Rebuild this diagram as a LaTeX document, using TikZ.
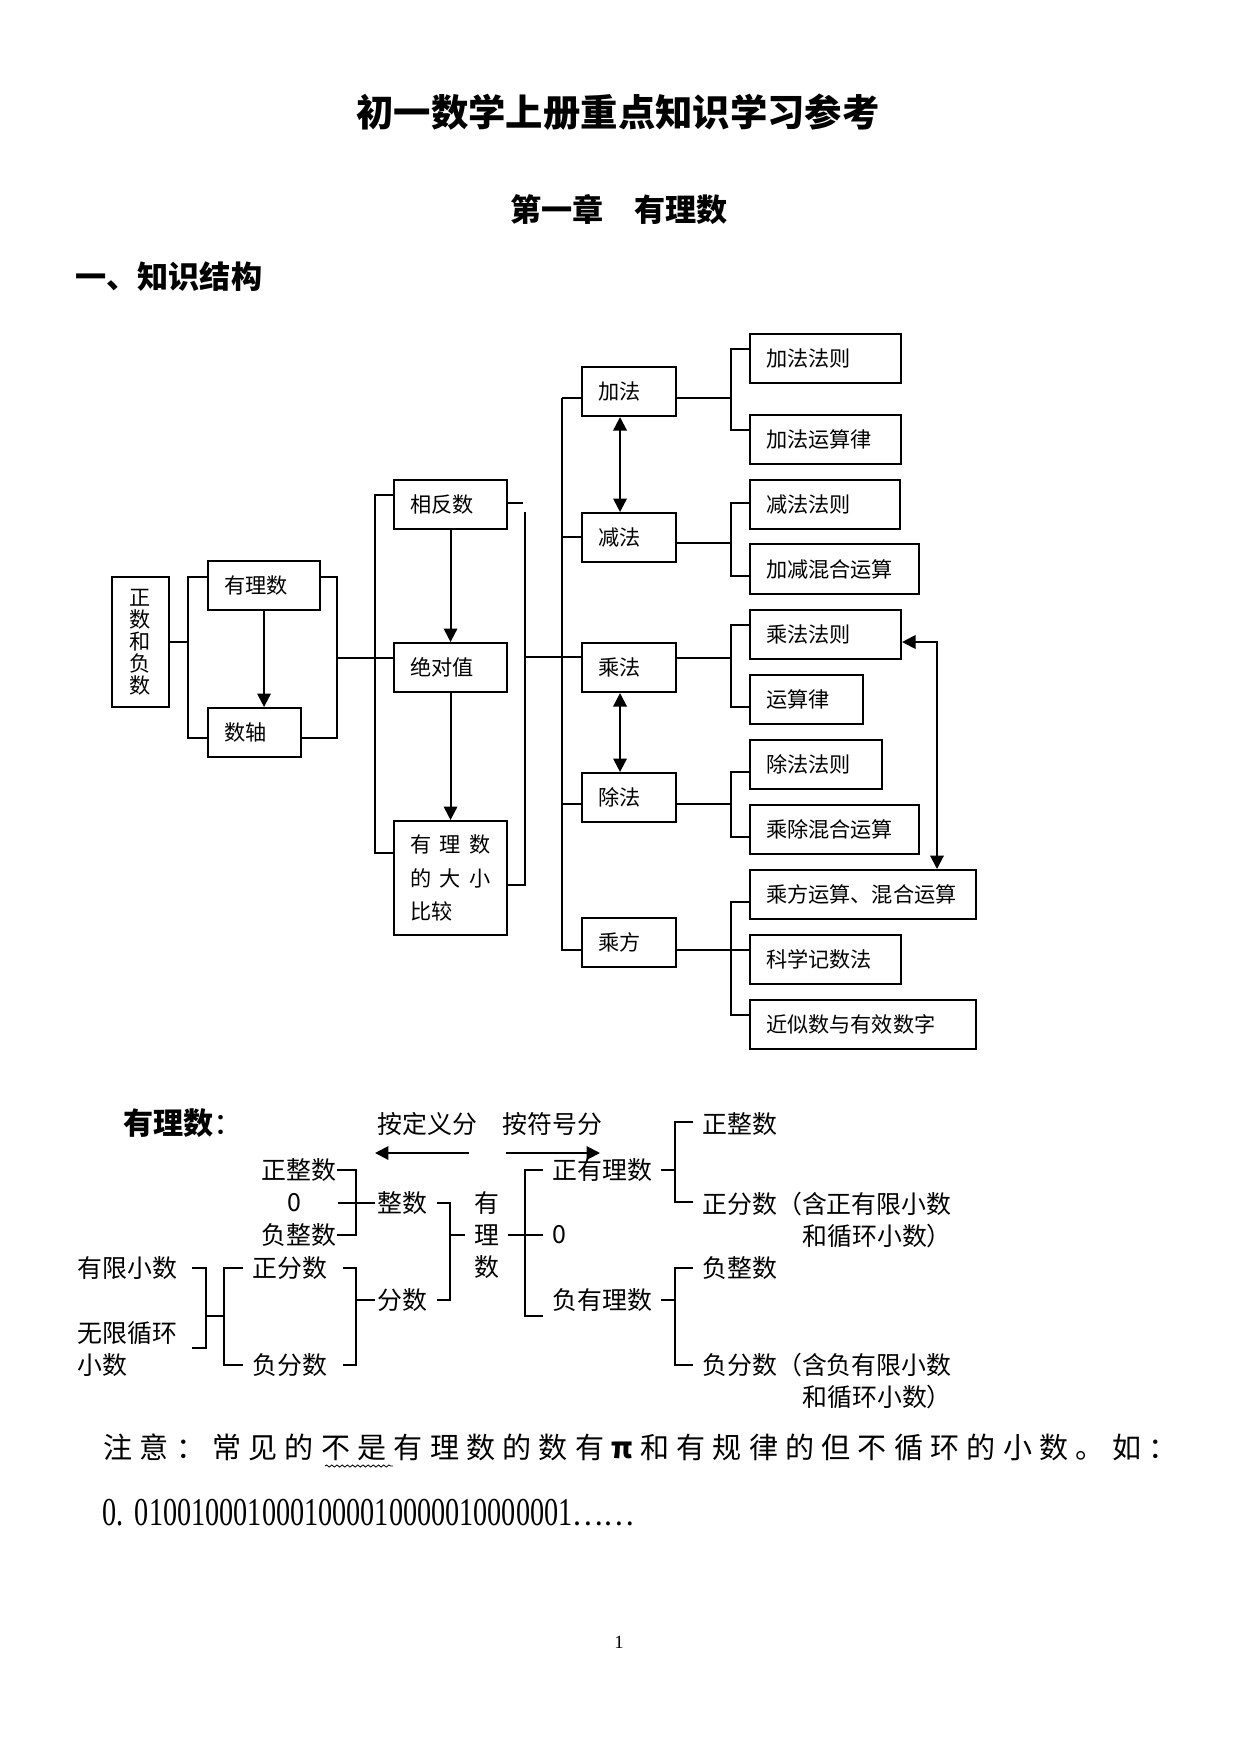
\documentclass[tikz,border=0pt]{standalone}
\usepackage{fontspec}
\usepackage{graphicx}
\setmainfont{Noto Sans CJK SC}
\newfontfamily\digitfont{Liberation Serif}
\usetikzlibrary{
	arrows.meta,
	calc,
	decorations.pathmorphing
}

\newlength\pxu
\setlength\pxu{0.16933mm}
\newcommand\fsbox{\fontsize{10.2pt}{12pt}\selectfont}
\newcommand\fstxt{\fontsize{12pt}{15.6pt}\selectfont}

\begin{document}
\begin{tikzpicture}[x=\pxu, y=-\pxu,
				box/.style={
					draw, line width=1pt, anchor=north west,
					minimum height=49\pxu, inner xsep=16\pxu, inner ysep=0pt,
					text width=#1\pxu, align=left, font=\fsbox
				},
				line/.style={line width=1pt},
				thinline/.style={line width=0.5pt},
				tip/.style={-{Triangle[length=6.5pt,width=6.5pt]}},
				bothtip/.style={{Triangle[length=6.5pt,width=6.5pt]}-{Triangle[length=6.5pt,width=6.5pt]}},
				txt/.style={inner sep=0pt, font=\fstxt},
				head/.style={inner sep=0pt, font=\bfseries\fontsize{#1}{#1}\selectfont},
				]
				\useasboundingbox (0,0) rectangle (1241,1754);
				
				%titles
				\node[head=18pt] (title) at (618,112) {初一数学上册重点知识学习参考};
				\node[head=15pt] (chap) at (619,210) {第一章　有理数};
				\node[head=15pt, anchor=west] (sec) at (75,277) {一、知识结构};
				
				%first set
				\node[draw, line width=1pt, minimum width=57\pxu, minimum height=130\pxu, inner sep=0pt,
					align=center, font=\fontsize{10.2pt}{10.6pt}\selectfont] (zf) at (140.5,642) {正\\数\\和\\负\\数};
				\node[box=80] (yls) at (207,560) {有理数};
				\node[box=61] (sz) at (207,707) {数轴};
				
				\coordinate (a1) at (188,577);
				\coordinate (a2) at (188,738);
				\draw[line] (zf.east) -- (zf.east -| a1);
				\draw[line] (yls.west |- a1) -- (a1) -- (a2) -- (sz.west |- a2);
				\draw[line, tip] (yls.south) -- (yls.south |- sz.north);
				
				\coordinate (a3) at (337,577);
				\coordinate (a4) at (337,738);
				\coordinate (a5) at (337,658);
				\draw[line] (yls.east |- a3) -- (a3) -- (a4) -- (sz.east |- a4);
				
				%2. set
				\node[box=81] (xfs) at (393,479) {相反数};
				\node[box=81] (jdz) at (393,642) {绝对值};
				\node[box=81, minimum height=114\pxu, font=\fontsize{10.2pt}{16pt}\selectfont] (dxbj) at (393,820)
					{有\hfill 理\hfill 数\\的\hfill 大\hfill 小\\比较};
				\draw[line] (a5) -- (jdz.west |- a5);
				
				\coordinate (b1) at (375,495);
				\coordinate (b2) at (375,853);
				\draw[line] (xfs.west |- b1) -- (b1) -- (b2) -- (dxbj.west |- b2);
				\draw[line, tip] (xfs) -- (jdz);
				\draw[line, tip] (jdz) -- (dxbj);
				
				\coordinate (b3) at (523,503);
				\coordinate (b4) at (525,512);
				\coordinate (b5) at (525,885);
				\coordinate (b6) at (525,657);
				\draw[line] (xfs.east |- b3) -- (b3);
				\draw[line] (b4) -- (b5) -- (dxbj.east |- b5);
				
				%3. set
				\node[box=62] (jia) at (581,366) {加法};
				\node[box=62] (jian) at (581,512) {减法};
				\node[box=62] (cheng) at (581,642) {乘法};
				\node[box=62] (chu) at (581,772) {除法};
				\node[box=62] (cf) at (581,917) {乘方};
				\draw[line] (b6) -- (cheng.west |- b6);
				
				\coordinate (c1) at (562,398);
				\coordinate (c2) at (562,537);
				\coordinate (c4) at (562,804);
				\coordinate (c5) at (562,950);
				\draw[thinline] (c1) -- (c5) -- (cf.west |- c5);
				\draw[line] (jia.west |- c1) -- (c1);
				\draw[thinline] (c2) -- (jian.west |- c2);
				\draw[thinline] (c4) -- (chu.west |- c4);
				\draw[line, bothtip] ([xshift=-9\pxu]jia.south) -- ([xshift=-9\pxu]jian.north);
				\draw[line, bothtip] ([xshift=-9\pxu]cheng.south) -- ([xshift=-9\pxu]chu.north);
				
				%4. set
				\node[box=119] (jfz) at (749,333) {加法法则};
				\node[box=119] (jfyl) at (749,414) {加法运算律};
				\node[box=118] (jffz) at (749,479) {减法法则};
				\node[box=137, minimum height=50\pxu] (jjhh) at (749,543) {加减混合运算};
				\node[box=119] (cfz) at (749,609) {乘法法则};
				\node[box=81] (ysl) at (749,674) {运算律};
				\node[box=100] (chfz) at (749,739) {除法法则};
				\node[box=137] (cchh) at (749,804) {乘除混合运算};
				\node[box=194] (cfys) at (749,869) {乘方运算、混合运算};
				\node[box=119] (kx) at (749,934) {科学记数法};
				\node[box=194] (js) at (749,999) {近似数与有效数字};
				
				\coordinate (d1) at (731,349);
				\coordinate (d2) at (731,430);
				\draw[line] (jia.east |- c1) -- (d1 |- c1);
				\draw[line] (jfz.west |- d1) -- (d1) -- (d2) -- (jfyl.west |- d2);
				
				\coordinate (e2) at (731,543);
				\coordinate (d3) at (731,503);
				\coordinate (d4) at (731,576);
				\draw[thinline] (jian.east |- e2) -- (e2);
				\draw[line] (jffz.west |- d3) -- (d3) -- (d4) -- (jjhh.west |- d4);
				
				\coordinate (e3) at (731,658);
				\coordinate (d5) at (731,625);
				\coordinate (d6) at (731,707);
				\draw[line] (cheng.east |- e3) -- (e3);
				\draw[line] (cfz.west |- d5) -- (d5) -- (d6) -- (ysl.west |- d6);
				
				\coordinate (e4) at (731,804);
				\coordinate (d7) at (731,772);
				\coordinate (d8) at (731,837);
				\draw[thinline] (chu.east |- e4) -- (e4);
				\draw[line] (chfz.west |- d7) -- (d7) -- (d8) -- (cchh.west |- d8);
				
				\coordinate (e5) at (731,950);
				\coordinate (d9) at (731,902);
				\coordinate (d10) at (731,1015);
				\draw[thinline] (cf.east |- e5) -- (kx.west |- e5);
				\draw[line] (cfys.west |- d9) -- (d9) -- (d10) -- (js.west |- d10);
				
				\coordinate (f1) at (937,642);
				\draw[line, bothtip] (cfz.east |- f1) -- (f1) -- (f1 |- cfys.north);
				
				%classification
				\node[head=14.5pt, anchor=west] (yl) at (123,1123) {有理数{\mdseries ：}};
				\node[txt, anchor=west] (adyf) at (377,1124) {按定义分};
				\node[txt, anchor=west] (afhf) at (502,1124) {按符号分};
				\coordinate (g1) at (469,1153);
				\coordinate (g2) at (375,1153);
				\coordinate (g3) at (506,1153);
				\coordinate (g4) at (600,1153);
				\draw[line, tip] (g1) -- (g2);
				\draw[line, tip] (g3) -- (g4);
				
				%by definition
				\node[txt, anchor=east] (zzl) at (337,1170) {正整数};
				\node[txt] (zero1) at (294,1203) {0};
				\node[txt, anchor=east] (fzl) at (337,1235) {负整数};
				\node[txt, anchor=west] (zs) at (377,1203) {整数};
				\node[txt, anchor=west] (fs) at (377,1300) {分数};
				\node[txt, align=center] (ylv) at (487,1235) {有\\理\\数};
				\node[txt, anchor=west] (yxxs) at (77,1268) {有限小数};
				\node[txt, anchor=west, align=left] (wxxh) at (77,1349) {无限循环\\小数};
				\node[txt, anchor=west] (zfs) at (252,1268) {正分数};
				\node[txt, anchor=west] (ffs) at (252,1365) {负分数};
				
				\coordinate (h1) at (356,1170);
				\coordinate (h2) at (356,1235);
				\draw[line] (zzl.east |- h1) -- (h1) -- (h2) -- (fzl.east |- h2);
				\coordinate (h3) at (338,1203);
				\draw[line] (h3) -- ($(zs.west)+(-2,0)$);
				
				\coordinate (h4) at (450,1203);
				\coordinate (h5) at (450,1300);
				\coordinate (h6) at (450,1235);
				\draw[line] ($(zs.east |- h4)+(9,0)$) -- (h4) -- (h5) -- ($(fs.east |- h5)+(9,0)$);
				\draw[line] (h6) -- ($(ylv.west |- h6)+(-9,0)$);
				
				\coordinate (h7) at (206,1268);
				\coordinate (h8) at (206,1348);
				\coordinate (h9) at (206,1316);
				\coordinate (h10) at (224,1316);
				\draw[line] ($(yxxs.east |- h7)+(15,0)$) -- (h7) -- (h8) -- ($(wxxh.east |- h8)+(15,0)$);
				\draw[line] (h9) -- (h10);
				
				\coordinate (h11) at (224,1268);
				\coordinate (h12) at (224,1365);
				\draw[line] ($(zfs.west |- h11)+(-9,0)$) -- (h11) -- (h12) -- ($(ffs.west |- h12)+(-9,0)$);
				
				\coordinate (h13) at (356,1268);
				\coordinate (h14) at (356,1365);
				\coordinate (h15) at (356,1300);
				\draw[line] ($(zfs.east |- h13)+(15,0)$) -- (h13) -- (h14) -- ($(ffs.east |- h14)+(15,0)$);
				\draw[line] (h15) -- ($(fs.west |- h15)+(-2,0)$);
				
				%by sign
				\node[txt, anchor=west] (zyl) at (552,1170) {正有理数};
				\node[txt, anchor=west] (zero2) at (552,1235) {0};
				\node[txt, anchor=west] (fyl) at (552,1300) {负有理数};
				\node[txt, anchor=west] (zzr) at (702,1124) {正整数};
				\node[txt, anchor=west, align=left] (zfsr) at (702,1220) {正分数（含正有限小数\\\hspace*{100\pxu}和循环小数）};
				\node[txt, anchor=west] (fzr) at (702,1268) {负整数};
				\node[txt, anchor=west, align=left] (ffsr) at (702,1381) {负分数（含负有限小数\\\hspace*{100\pxu}和循环小数）};
				
				\coordinate (i1) at (525,1170);
				\coordinate (i2) at (525,1316);
				\draw[line] ($(zyl.west)+(-9,0)$) -- (i1) -- (i2) -- ($(fyl.west |- i2)+(-9,0)$);
				\draw[line] ($(ylv.east)+(8,0)$) -- ($(zero2.west)+(-9,0)$);
				
				\coordinate (i3) at (675,1122);
				\coordinate (i4) at (675,1202);
				\draw[line] ($(zyl.east)+(9,0)$) -- (zyl.east -| i3);
				\draw[line] ($(zzr.west |- i3)+(-9,0)$) -- (i3) -- (i4) -- ($(zfsr.west |- i4)+(-9,0)$);
				
				\coordinate (i5) at (675,1268);
				\coordinate (i6) at (675,1365);
				\draw[line] ($(fyl.east)+(9,0)$) -- (fyl.east -| i5);
				\draw[line] ($(fzr.west |- i5)+(-9,0)$) -- (i5) -- (i6) -- ($(ffsr.west |- i6)+(-9,0)$);
				
				%note
				\node[anchor=west, inner sep=0pt, font=\fontsize{14pt}{14pt}\selectfont] (note) at (103,1447)
					{\makebox[1074\pxu]{注\hfill 意\hfill ：\hfill 常\hfill 见\hfill 的\hfill 不\hfill 是\hfill 有\hfill 理\hfill 数\hfill 的\hfill 数\hfill 有\hfill {\bfseries π}\hfill 和\hfill 有\hfill 规\hfill 律\hfill 的\hfill 但\hfill 不\hfill 循\hfill 环\hfill 的\hfill 小\hfill 数\hfill 。\hfill 如\hfill ：}};
				\draw[decorate, decoration={snake, amplitude=0.5pt, segment length=2.5pt}, line width=0.4pt]
					(325,1466) -- (393,1466);
				\node[anchor=west, inner sep=0pt] (num) at (102,1513)
					{\digitfont\fontsize{13.6pt}{14pt}\selectfont\scalebox{1}[1.4]{0.\hspace{5.5pt}0100100010001000010000010000001}{\normalfont\fontsize{14pt}{14pt}\selectfont ……}};
				
				\node[font=\fontsize{9pt}{9pt}\selectfont\digitfont] (pg) at (619,1642) {1};
			\end{tikzpicture}
\end{document}
